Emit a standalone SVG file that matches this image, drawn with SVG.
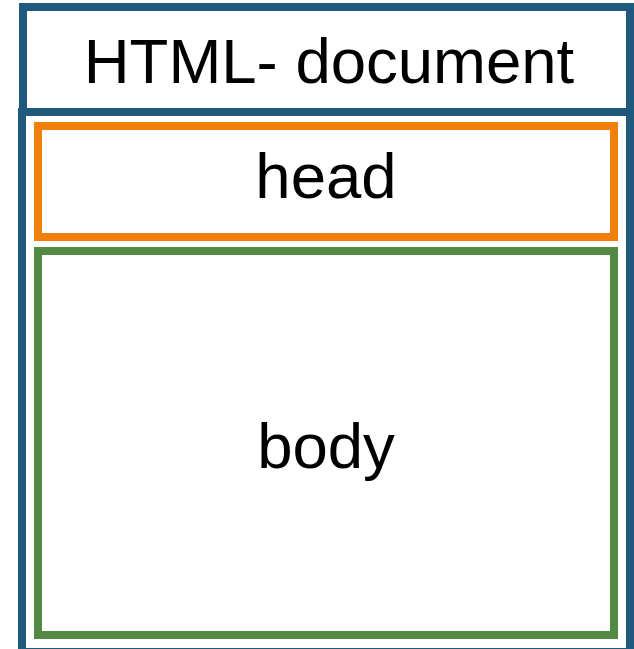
<svg xmlns="http://www.w3.org/2000/svg" width="634" height="649" viewBox="0 0 634 649">
<style>
.t{font-family:"Liberation Sans",Arial,sans-serif;font-size:63.5px;fill:#000;text-anchor:middle}
.box{fill:none;stroke-width:8}
</style>
<rect width="634" height="649" fill="#fff"/>
<g id="document">
<rect class="box" x="23" y="7" width="607" height="105" stroke="#1F5A7E"/>
<rect class="box" x="22" y="112" width="608" height="540" stroke="#1F5A7E"/>
<text class="t" x="329" y="83">HTML- document</text>
</g>
<g id="head">
<rect class="box" x="38" y="126" width="576" height="111" stroke="#F0800A"/>
<text class="t" x="326" y="198">head</text>
</g>
<g id="body">
<rect class="box" x="38" y="251" width="576" height="384" stroke="#538A43"/>
<text class="t" x="326" y="468">body</text>
</g>
<g id="connectors"/>
</svg>
